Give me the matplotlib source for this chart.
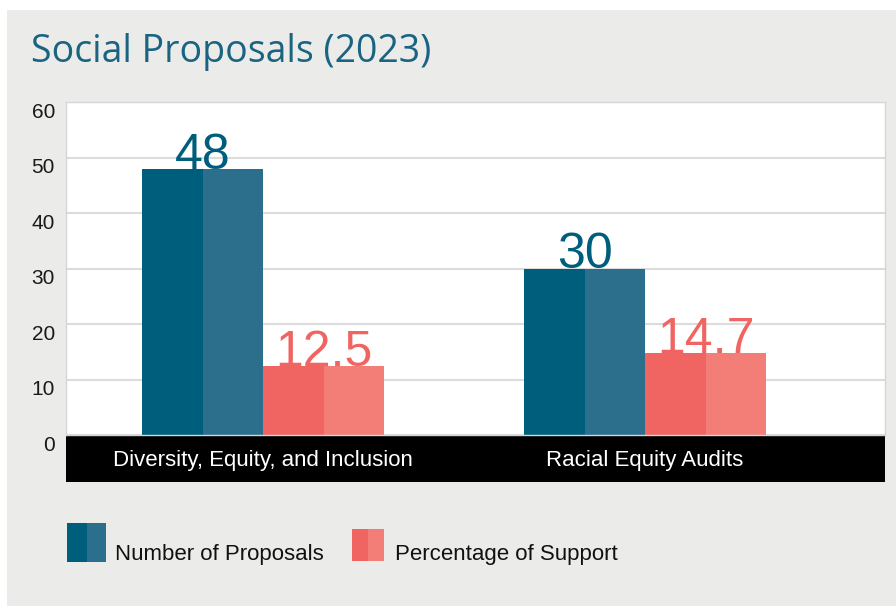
import numpy as np
import matplotlib
matplotlib.use("Agg")
import matplotlib.pyplot as plt
import matplotlib.transforms as mtransforms
from matplotlib.patches import Rectangle

categories = ["Diversity, Equity, and Inclusion", "Racial Equity Audits"]
series_names = ["Number of Proposals", "Percentage of Support"]
proposals = [48, 30]
support = [12.5, 14.7]
yticks = [0, 10, 20, 30, 40, 50, 60]

W, H = 896, 606
plt.rcParams['font.family'] = ['Liberation Sans', 'DejaVu Sans']

fig = plt.figure(figsize=(W / 100, H / 100), dpi=100)
fig.patch.set_facecolor('white')

def px(x0, y0, x1, y1):
    # pixel box (top-left origin) -> figure fraction rect
    return (x0 / W, 1 - y1 / H, (x1 - x0) / W, (y1 - y0) / H)

# grey panel
r = px(7, 10, 896, 606)
fig.add_artist(Rectangle(r[:2], r[2], r[3], transform=fig.transFigure,
                         facecolor='#ebebea', edgecolor='none', zorder=0))

fig.text(31 / W, 1 - 62 / H, "Social Proposals (2023)", fontsize=27,
         family=['Open Sans', 'DejaVu Sans'], color='#1a6482', va='baseline')

ax = fig.add_axes([66 / W, 1 - 435 / H, 819 / W, 333 / H])
ax.set_facecolor('white')

x = np.arange(len(categories))
w = 0.317
dark = ['#005e7d', '#f06562']
light = ['#2b6f8d', '#f37e78']
label_col = ['#005e7d', '#f06562']

for i, vals in enumerate([proposals, support]):
    left = x - w + i * w
    ax.bar(left, vals, width=w / 2, align='edge', color=dark[i], zorder=2)
    ax.bar(left + w / 2, vals, width=w / 2, align='edge', color=light[i], zorder=2)
    for xi, v in zip(left + w / 2, vals):
        ax.text(xi, v, f"{v:g}", ha='center', va='baseline', fontsize=36,
                color=label_col[i], zorder=3)

ax.set_xlim(-0.516, 1.628)
ax.set_ylim(0, 60)
ax.set_yticks(yticks)
ax.set_yticklabels([str(t) for t in yticks])
ax.yaxis.grid(True, color='#dcdcdc', linewidth=1.5, zorder=1)
ax.set_axisbelow(True)
ax.tick_params(axis='y', length=0, pad=8, labelsize=15, labelcolor='#1a1a1a')
offset = mtransforms.ScaledTranslation(0, -6 / 72, fig.dpi_scale_trans)
for lab in ax.get_yticklabels():
    lab.set_transform(lab.get_transform() + offset)

ax.set_xticks(x)
ax.set_xticklabels(categories)
ax.tick_params(axis='x', length=0, pad=11, labelsize=16, labelcolor='white')
for s in ax.spines.values():
    s.set_color('#d6d6d6')
    s.set_linewidth(1)

# black category band under the axis
band_h = 47 / 333
ax.add_patch(Rectangle((0, -band_h), 1, band_h, transform=ax.transAxes,
                       facecolor='black', edgecolor='none', clip_on=False, zorder=0.2))

# legend
leg = [((67, 523, 106, 562), 0, 115), ((352, 529, 384, 561), 1, 395)]
for (x0, y0, x1, y1), i, tx in leg:
    xm = (x0 + x1) / 2
    r1 = px(x0, y0, xm, y1)
    r2 = px(xm, y0, x1, y1)
    fig.add_artist(Rectangle(r1[:2], r1[2], r1[3], transform=fig.transFigure,
                             facecolor=dark[i], edgecolor='none'))
    fig.add_artist(Rectangle(r2[:2], r2[2], r2[3], transform=fig.transFigure,
                             facecolor=light[i], edgecolor='none'))
    fig.text(tx / W, 1 - 560 / H, series_names[i], fontsize=16, color='#111111',
             va='baseline')

fig.savefig("out.png", dpi=100)
